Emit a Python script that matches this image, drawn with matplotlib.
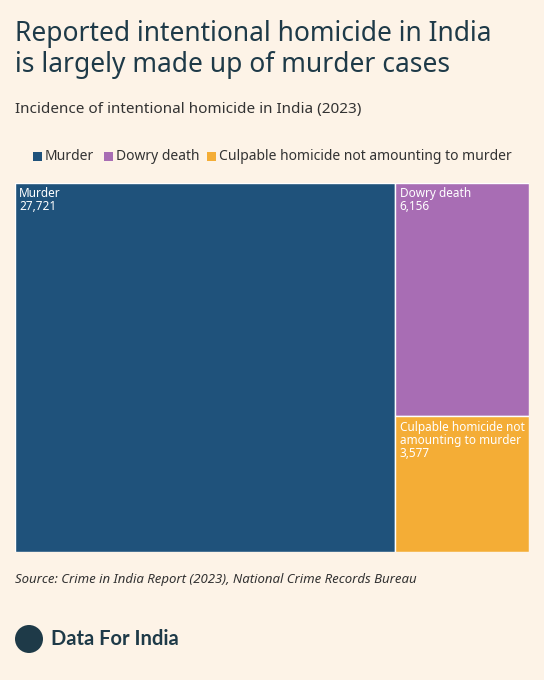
import matplotlib
matplotlib.use("Agg")
import matplotlib.pyplot as plt
from matplotlib.patches import Rectangle, Ellipse

categories = ["Murder", "Dowry death", "Culpable homicide not amounting to murder"]
box_labels = ["Murder", "Dowry death", "Culpable homicide not\namounting to murder"]
values = [27721, 6156, 3577]
colors = ["#1f527b", "#a86db4", "#f4ad36"]

bg = "#fdf3e7"
dark = "#1e3a48"
plt.rcParams['font.family'] = ['Noto Sans', 'DejaVu Sans']

fig = plt.figure(figsize=(5.44, 6.8), dpi=100, facecolor=bg)
fig.text(15/544, 1-20/680, "Reported intentional homicide in India\nis largely made up of murder cases",
         fontsize=19, color=dark, va="top", ha="left", linespacing=1.15)
fig.text(15/544, 1-110/680, "Incidence of intentional homicide in India (2023)",
         fontsize=11, color="#333333", va="center", ha="left")

lx = [33, 104, 207]
for x, c, t in zip(lx, colors, categories):
    fig.patches.append(Rectangle((x/544, 1-161/680), 9/544, 9/680, transform=fig.transFigure,
                                 facecolor=c, edgecolor="none"))
    fig.text((x+12)/544, 1-156/680, t, fontsize=10, color="#333333", va="center", ha="left")

ax = fig.add_axes([15/544, 1-552/680, 514/544, 369/680])
ax.set_facecolor(bg)
total = sum(values)
ax.set_xlim(0, total)
ax.set_ylim(0, 1)
ax.invert_yaxis()
ax.axis("off")

rest = sum(values[1:])
rects = [(0, 0, values[0], 1)]
y = 0
for v in values[1:]:
    h = v / rest
    rects.append((values[0], y, rest, h))
    y += h
for (x0, y0, w, h), c, lab, v in zip(rects, colors, box_labels, values):
    ax.add_patch(Rectangle((x0, y0), w, h, facecolor=c, edgecolor="white", linewidth=1))
    ax.annotate(f"{lab}\n{v:,}", xy=(x0, y0), xytext=(3, -3), textcoords="offset points",
                fontsize=8.5, color="white", va="top", ha="left", linespacing=1.0)

fig.text(15/544, 1-580/680, "Source: Crime in India Report (2023), National Crime Records Bureau",
         fontsize=9.5, style="italic", color="#333333", va="center", ha="left")

fig.patches.append(Ellipse((29/544, 1-639/680), 28/544, 28/680, transform=fig.transFigure,
                           facecolor=dark, edgecolor="none"))
fig.text(51/544, 1-639/680, "Data For India", fontsize=14.5, fontweight="bold", color=dark,
         va="center", ha="left", family=["Lato", "DejaVu Sans"])

fig.savefig("out.png", dpi=100, facecolor=bg)
